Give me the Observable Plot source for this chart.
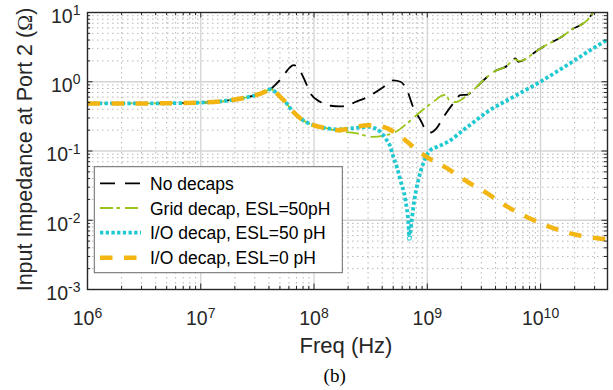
<!DOCTYPE html>
<html><head><meta charset="utf-8">
<script src="https://cdn.jsdelivr.net/npm/d3@7"></script>
<script src="https://cdn.jsdelivr.net/npm/@observablehq/plot@0.6"></script>
<style>
body{margin:0;background:#fff;}
#chart svg{font-family:"Liberation Sans",Arial,sans-serif;display:block;}
</style>
</head><body><div id="chart"></div>
<script>
// ---- data ----
const seriesNames = ["No decaps", "Grid decap, ESL=50pH", "I/O decap, ESL=50 pH", "I/O decap, ESL=0 pH"];

const noDecapFreq = [1e6, 3e6, 1e7, 1.95e7, 2.6e7, 3.2e7, 3.8e7, 4.2e7, 4.6e7, 5.1e7, 5.6e7, 6.1e7, 6.6e7, 7.1e7, 7.6e7, 8.5e7, 9.3e7, 1.14e8, 1.4e8, 1.7e8, 1.95e8, 2.32e8, 2.96e8, 4.1e8, 5.0e8, 5.8e8, 6.7e8, 7.5e8, 8.7e8, 1.0e9, 1.08e9, 1.2e9, 1.39e9, 1.7e9, 1.96e9, 2.26e9, 2.55e9, 3.39e9, 4.0e9, 4.9e9, 6.0e9, 6.35e9, 7.05e9, 8.6e9, 1.0e10, 1.27e10, 1.5e10, 1.95e10, 2.24e10, 2.59e10, 2.87e10, 3.2e10];
const noDecapZ = [0.486, 0.487, 0.50, 0.55, 0.60, 0.655, 0.72, 0.80, 0.92, 1.1, 1.35, 1.6, 1.74, 1.66, 1.4, 0.95, 0.68, 0.51, 0.45, 0.44, 0.45, 0.51, 0.60, 0.84, 1.05, 1.0, 0.72, 0.43, 0.28, 0.19, 0.185, 0.21, 0.31, 0.49, 0.64, 0.65, 0.76, 1.18, 1.44, 1.64, 2.17, 1.94, 2.05, 2.56, 3.03, 3.77, 4.35, 5.87, 6.56, 7.74, 9.68, 12.5];

const gridDecapFreq = [1e6, 3e6, 1e7, 1.95e7, 2.6e7, 3.16e7, 3.7e7, 4.15e7, 4.6e7, 5.05e7, 5.6e7, 6.19e7, 7.59e7, 9.88e7, 1.31e8, 1.6e8, 2.32e8, 3.27e8, 4.27e8, 5.23e8, 6.67e8, 8.7e8, 1.13e9, 1.38e9, 1.46e9, 1.55e9, 1.78e9, 2.26e9, 2.55e9, 3.39e9, 4.0e9, 4.9e9, 6.0e9, 6.5e9, 7.05e9, 8.6e9, 1.0e10, 1.27e10, 1.5e10, 1.95e10, 2.24e10, 2.59e10, 2.87e10, 3.2e10];
const gridDecapZ = [0.486, 0.486, 0.50, 0.55, 0.60, 0.65, 0.72, 0.78, 0.70, 0.60, 0.51, 0.41, 0.295, 0.236, 0.212, 0.195, 0.181, 0.160, 0.169, 0.188, 0.253, 0.368, 0.513, 0.64, 0.65, 0.55, 0.51, 0.64, 0.76, 1.18, 1.44, 1.64, 2.1, 2.0, 2.05, 2.56, 3.03, 3.77, 4.35, 5.87, 6.56, 7.74, 9.68, 12.5];

const io50Freq = [1e6, 3e6, 1e7, 1.95e7, 2.6e7, 3.16e7, 3.7e7, 4.15e7, 4.6e7, 5.05e7, 5.6e7, 6.19e7, 7.59e7, 9.88e7, 1.31e8, 1.61e8, 2.1e8, 2.7e8, 3.15e8, 3.5e8, 3.86e8, 4.3e8, 4.72e8, 5.02e8, 5.4e8, 5.79e8, 6.41e8, 6.81e8, 6.95e8, 7.24e8, 7.54e8, 8.34e8, 9.24e8, 1.065e9, 1.23e9, 1.5e9, 2.26e9, 3.39e9, 5.75e9, 9.96e9, 1.72e10, 2.75e10, 3.9e10];
const io50Z = [0.486, 0.486, 0.50, 0.55, 0.60, 0.65, 0.72, 0.78, 0.70, 0.60, 0.51, 0.41, 0.295, 0.236, 0.212, 0.205, 0.212, 0.22, 0.223, 0.21, 0.189, 0.15, 0.115, 0.082, 0.058, 0.038, 0.0196, 0.0091, 0.0055, 0.0091, 0.0157, 0.038, 0.067, 0.103, 0.115, 0.134, 0.223, 0.368, 0.605, 1.0, 1.74, 2.86, 4.07];

const io0Freq = [1e6, 3e6, 1e7, 1.95e7, 2.6e7, 3.16e7, 3.7e7, 4.15e7, 4.6e7, 5.05e7, 5.6e7, 6.19e7, 7.59e7, 9.88e7, 1.31e8, 1.61e8, 2.1e8, 2.96e8, 3.63e8, 4.45e8, 5.3e8, 6.6e8, 8e8, 1.0e9, 1.5e9, 2.26e9, 3.39e9, 5.09e9, 7.8e9, 1.24e10, 1.95e10, 3.17e10, 3.9e10];
const io0Z = [0.486, 0.486, 0.50, 0.55, 0.60, 0.65, 0.72, 0.78, 0.70, 0.60, 0.51, 0.41, 0.295, 0.236, 0.212, 0.20, 0.212, 0.236, 0.233, 0.212, 0.18, 0.137, 0.105, 0.081, 0.056, 0.036, 0.0244, 0.0157, 0.0109, 0.0079, 0.0063, 0.0055, 0.0053];

const xTickExps = [6, 7, 8, 9, 10];
const yTickExps = [-3, -2, -1, 0, 1];
const xDomain = [1e6, 3.9e10];
const yDomain = [1e-3, 1e1];

// ---- styles ----
const styles = [
  {stroke: "#000000", strokeWidth: 1.8, dash: "14,9"},
  {stroke: "#99c51a", strokeWidth: 1.8, dash: "13,3.5,3.5,5"},
  {stroke: "#20c9d2", strokeWidth: 3.8, dash: "3.3,2.4"},
  {stroke: "#f2b512", strokeWidth: 4.5, dash: "12.5,11.5"}
];

const W = 613, H = 390, mL = 87, mR = 6, mT = 12, mB = 101;
const plotW = W - mL - mR, plotH = H - mT - mB;

const rows = (fs, zs) => fs.map((f, i) => ({f, z: zs[i]}));
const data = [rows(noDecapFreq, noDecapZ), rows(gridDecapFreq, gridDecapZ), rows(io50Freq, io50Z), rows(io0Freq, io0Z)];

const majorX = xTickExps.map(e => 10 ** e);
const majorY = yTickExps.map(e => 10 ** e);
const minorX = [];
for (const e of xTickExps) for (let k = 2; k <= 9; k++) { const v = k * 10 ** e; if (v <= xDomain[1]) minorX.push(v); }
const minorY = [];
for (const e of yTickExps.slice(0, -1)) for (let k = 2; k <= 9; k++) minorY.push(k * 10 ** e);

const minIdx = d3.minIndex(io50Z);
const dipPoint = [{f: io50Freq[minIdx], z: io50Z[minIdx]}];

const tickCol = "#262626";
const svg = Plot.plot({
  width: W, height: H,
  marginLeft: mL, marginRight: mR, marginTop: mT, marginBottom: mB,
  style: {fontFamily: '"Liberation Sans", Arial, sans-serif', background: "#fff"},
  x: {type: "log", domain: xDomain},
  y: {type: "log", domain: yDomain},
  marks: [
    Plot.ruleX(minorX, {stroke: "#b8b8b8", strokeDasharray: "1.5,3.5", strokeWidth: 1}),
    Plot.ruleY(minorY, {stroke: "#b8b8b8", strokeDasharray: "1.5,3.5", strokeWidth: 1}),
    Plot.ruleX(majorX.slice(1), {stroke: "#d4d4d4", strokeWidth: 1.3}),
    Plot.ruleY(majorY.slice(1, -1), {stroke: "#d4d4d4", strokeWidth: 1.3}),
    ...data.map((d, i) => Plot.line(d, {x: "f", y: "z", stroke: styles[i].stroke, strokeWidth: styles[i].strokeWidth,
      strokeDasharray: styles[i].dash, curve: "monotone-x", clip: true, strokeLinecap: "butt"})),
    Plot.dot(dipPoint, {x: "f", y: "z", r: 2, stroke: styles[2].stroke, fill: "#fff", strokeWidth: 1}),
    // inward ticks on all four sides
    Plot.ruleX(majorX, {stroke: tickCol, insetTop: plotH - 5.5}),
    Plot.ruleX(majorX, {stroke: tickCol, insetBottom: plotH - 5.5}),
    Plot.ruleX(minorX, {stroke: tickCol, insetTop: plotH - 3.2}),
    Plot.ruleX(minorX, {stroke: tickCol, insetBottom: plotH - 3.2}),
    Plot.ruleY(majorY, {stroke: tickCol, insetRight: plotW - 5.5}),
    Plot.ruleY(majorY, {stroke: tickCol, insetLeft: plotW - 5.5}),
    Plot.ruleY(minorY, {stroke: tickCol, insetRight: plotW - 3.2}),
    Plot.ruleY(minorY, {stroke: tickCol, insetLeft: plotW - 3.2}),
    Plot.frame({stroke: tickCol, strokeWidth: 1.4}),
    Plot.axisX({ticks: majorX, tickSize: 0, tickPadding: 22, label: null, fontSize: 19.5,
      tickFormat: d => "10^" + Math.round(Math.log10(d))}),
    Plot.axisY({ticks: majorY, tickSize: 0, tickPadding: 7, dy: 4, label: null, fontSize: 19.5,
      tickFormat: d => "10^" + Math.round(Math.log10(d))})
  ]
});

const s = d3.select(svg);
// superscript tick labels
s.selectAll('g[aria-label="x-axis tick label"] text, g[aria-label="y-axis tick label"] text').each(function () {
  const t = this.textContent;
  if (!t.includes("^")) return;
  const [b, e] = t.split("^");
  const el = d3.select(this);
  el.text(null).style("font-size", "19.5px").attr("fill", tickCol);
  el.append("tspan").text(b);
  el.append("tspan").attr("dy", "-0.55em").style("font-size", "14px").text(e);
});

// axis titles
s.append("text").attr("x", (mL + W - mR) / 2 - 1).attr("y", 353.3).attr("text-anchor", "middle")
  .style("font-size", "22px").attr("fill", tickCol).text("Freq (Hz)");
const yl = s.append("text").attr("transform", `translate(32,${mT + plotH / 2 - 1}) rotate(-90)`)
  .attr("text-anchor", "middle").style("font-size", "21.5px").attr("fill", tickCol);
yl.append("tspan").text("Input Impedance at Port 2 (");
yl.append("tspan").style("font-family", '"Liberation Serif", serif').text("Ω");
yl.append("tspan").text(")");

// caption
s.append("text").attr("x", 334.7).attr("y", 381.7).attr("text-anchor", "middle")
  .style("font-family", '"Liberation Serif", "Times New Roman", serif').style("font-size", "19px")
  .attr("fill", "#000").text("(b)");

// legend
const lg = s.append("g").attr("text-anchor", "start");
lg.append("rect").attr("x", 94.3).attr("y", 166.7).attr("width", 248).attr("height", 106)
  .attr("fill", "#fff").attr("stroke", "#6a6a6a").attr("stroke-width", 1);
const rowY = [183.3, 208, 232.7, 257.7];
seriesNames.forEach((name, i) => {
  lg.append("line").attr("x1", 100).attr("x2", 141).attr("y1", rowY[i]).attr("y2", rowY[i])
    .attr("stroke", styles[i].stroke).attr("stroke-width", styles[i].strokeWidth)
    .attr("stroke-dasharray", i === 0 ? "15,10" : styles[i].dash);
  lg.append("text").attr("x", 150).attr("y", rowY[i] + 6.6).attr("text-anchor", "start")
    .style("font-size", "17.5px").attr("fill", "#000").text(name);
});

document.getElementById("chart").append(svg);
</script>
</body></html>
